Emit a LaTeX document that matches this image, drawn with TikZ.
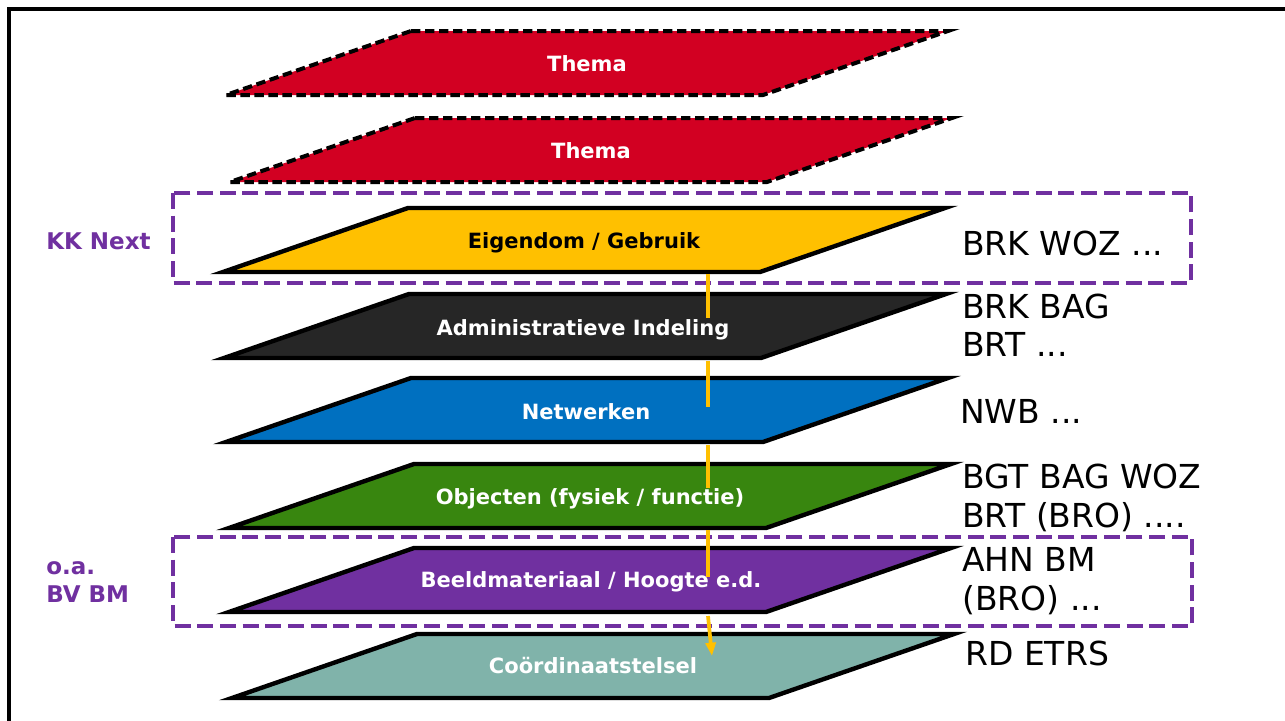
\documentclass[tikz,border=0pt]{standalone}
\usepackage{fontspec}
\setmainfont{DejaVu Sans}
\usetikzlibrary{arrows.meta}
\definecolor{themared}{HTML}{D20022}
\definecolor{eigyellow}{HTML}{FFC000}
\definecolor{admdark}{HTML}{262626}
\definecolor{netblue}{HTML}{0070C0}
\definecolor{objgreen}{HTML}{38860F}
\definecolor{beeldpurple}{HTML}{7030A0}
\definecolor{coordteal}{HTML}{80B3AA}
\definecolor{boxpurple}{HTML}{7030A0}
\definecolor{linkorange}{HTML}{FFC000}
\newcommand{\mylayer}[3]{%
  \path[#1] (#2+185,#3) -- (#2+722,#3) -- (#2+537,#3+64) -- (#2,#3+64) -- cycle;}
\begin{document}
\begin{tikzpicture}[x=0.75pt,y=-0.75pt,
  solidlayer/.style={draw=black,line width=3.3pt},
  themalayer/.style={fill=themared,draw=black,line width=3pt,dash pattern=on 7pt off 3.5pt},
  lab/.style={font=\fontsize{15.75}{18}\selectfont\bfseries,text=white,inner sep=0pt,anchor=base},
  lablack/.style={lab,text=black},
  side/.style={font=\fontsize{24.75}{29}\selectfont,text=black,inner sep=0pt,anchor=base west},
  grp/.style={font=\fontsize{17.25}{20.5}\selectfont\bfseries,text=boxpurple,inner sep=0pt,anchor=base west},
  groupbox/.style={draw=boxpurple,line width=3.5pt,dash pattern=on 12pt off 5pt},
  link/.style={draw=linkorange,line width=2.8pt}]
\useasboundingbox (0,0) rectangle (1285,721);
\fill[white] (0,0) rectangle (1285,721);
% frame
\draw[line width=2.4pt,black] (1290,9) -- (9,9) -- (9,730);
% layers
\mylayer{themalayer}{226}{31}
\mylayer{themalayer}{230}{118}
\mylayer{solidlayer,fill=eigyellow}{223}{208}
\mylayer{solidlayer,fill=admdark}{224}{294}
\mylayer{solidlayer,fill=netblue}{226}{378}
\mylayer{solidlayer,fill=objgreen}{229}{464}
\mylayer{solidlayer,fill=beeldpurple}{229}{548}
\mylayer{solidlayer,fill=coordteal}{232}{634}
% layer labels
\node[lab] (thema1) at (587,71) {Thema};
\node[lab] (thema2) at (591,158) {Thema};
\node[lablack] (eigendom) at (584,248) {Eigendom / Gebruik};
\node[lab] (admin) at (583,335) {Administratieve Indeling};
\node[lab] (netwerken) at (586,419) {Netwerken};
\node[lab] (objecten) at (590,504) {Objecten (fysiek / functie)};
\node[lab] (beeld) at (591,587) {Beeldmateriaal / Hoogte e.d.};
\node[lab] (coord) at (593,673) {Coördinaatstelsel};
% group boxes
\draw[groupbox] (173,193) rectangle (1191,283);
\draw[groupbox] (173,537) rectangle (1192,626);
\node[grp] (kknext) at (46,249) {KK Next};
\node[grp] (oa) at (46,574) {o.a.};
\node[grp] (bvbm) at (46,602) {BV BM};
% side texts
\node[side] (s1) at (962,255) {BRK WOZ ...};
\node[side] (s2a) at (962,318) {BRK BAG};
\node[side] (s2b) at (962,356) {BRT ...};
\node[side] (s3) at (960,423) {NWB ...};
\node[side] (s4a) at (962,488) {BGT BAG WOZ};
\node[side] (s4b) at (962,527) {BRT (BRO) ....};
\node[side] (s5a) at (962,571) {AHN BM};
\node[side] (s5b) at (962,610) {(BRO) ...};
\node[side] (s6) at (965,665) {RD ETRS};
% orange link
\coordinate (o1a) at (708,274); \coordinate (o1b) at (708,318);
\coordinate (o2a) at (708,361); \coordinate (o2b) at (708,407);
\coordinate (o3a) at (708,445); \coordinate (o3b) at (708,488);
\coordinate (o4a) at (708,530); \coordinate (o4b) at (708,577);
\coordinate (o5a) at (708,616); \coordinate (o5b) at (712,656);
\draw[link] (o1a) -- (o1b);
\draw[link] (o2a) -- (o2b);
\draw[link] (o3a) -- (o3b);
\draw[link] (o4a) -- (o4b);
\draw[link,-{Triangle[width=7.5pt,length=10pt]}] (o5a) -- (o5b);
\end{tikzpicture}
\end{document}
